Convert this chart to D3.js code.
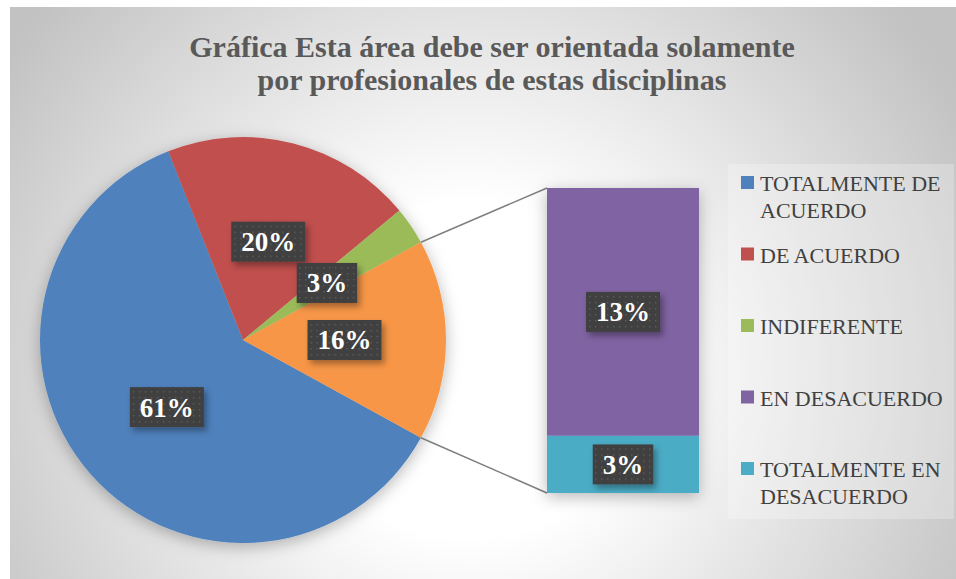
<!DOCTYPE html>
<html>
<head>
<meta charset="utf-8">
<script src="https://cdn.jsdelivr.net/npm/d3@7"></script>
<style>
  body { margin: 0; background: #fff; }
  svg { display: block; }
</style>
</head>
<body>
<svg width="956" height="579"></svg>
<script>
const TITLE_LINES = ["Gráfica Esta área debe ser orientada solamente", "por profesionales de estas disciplinas"];
const CATEGORIES = ["TOTALMENTE DE ACUERDO", "DE ACUERDO", "INDIFERENTE", "EN DESACUERDO", "TOTALMENTE EN DESACUERDO"];
const VALUES = [61, 20, 3, 13, 3];
const COLORS = ["#4f81bd", "#c0504d", "#9bbb59", "#8064a2", "#4bacc6"];
const OTHER_COLOR = "#f79646";
const SPLIT_AT = 3; // last 2 values go to the bar
const LEGEND_LINES = [["TOTALMENTE DE", "ACUERDO"], ["DE ACUERDO"], ["INDIFERENTE"], ["EN DESACUERDO"], ["TOTALMENTE EN", "DESACUERDO"]];

const W = 956, H = 579;
const PIE_C = { x: 243, y: 340 };
const R = 203;
const BAR = { x: 547, y: 188, w: 152, h: 305 };
const SERIF = "'Liberation Serif', 'DejaVu Serif', serif";

const svg = d3.select("svg");
const defs = svg.append("defs");

// background gradient
const bg = defs.append("radialGradient")
  .attr("id", "bg")
  .attr("gradientUnits", "userSpaceOnUse")
  .attr("cx", 470).attr("cy", 370).attr("r", 560);
bg.append("stop").attr("offset", 0).attr("stop-color", "#ffffff");
bg.append("stop").attr("offset", 0.3).attr("stop-color", "#ffffff");
bg.append("stop").attr("offset", 1).attr("stop-color", "#c2c2c2");

// dotted texture for data labels
const pat = defs.append("pattern")
  .attr("id", "dots")
  .attr("patternUnits", "userSpaceOnUse")
  .attr("width", 6).attr("height", 6);
pat.append("rect").attr("width", 6).attr("height", 6).attr("fill", "#404040");
pat.append("rect").attr("x", 2).attr("y", 2).attr("width", 1.4).attr("height", 1.4).attr("fill", "#5e5e5e");

const shadow = defs.append("filter").attr("id", "shadow")
  .attr("x", "-30%").attr("y", "-30%").attr("width", "160%").attr("height", "160%");
shadow.append("feDropShadow")
  .attr("dx", 3).attr("dy", 4).attr("stdDeviation", 3)
  .attr("flood-color", "#000").attr("flood-opacity", 0.35);

const pieShadow = defs.append("filter").attr("id", "pieShadow")
  .attr("x", "-20%").attr("y", "-20%").attr("width", "140%").attr("height", "140%");
pieShadow.append("feDropShadow")
  .attr("dx", 0).attr("dy", 4).attr("stdDeviation", 8)
  .attr("flood-color", "#000").attr("flood-opacity", 0.28);

svg.append("rect")
  .attr("x", 10).attr("y", 7)
  .attr("width", W - 10).attr("height", H - 7)
  .attr("fill", "url(#bg)");

// title
svg.append("g").selectAll("text")
  .data(TITLE_LINES)
  .join("text")
  .attr("x", 492)
  .attr("y", (d, i) => 57 + i * 33)
  .attr("text-anchor", "middle")
  .attr("font-family", SERIF)
  .attr("font-weight", "bold")
  .attr("font-size", 30)
  .attr("fill", "#595959")
  .text(d => d);

// pie: main slices + "other"
const mainVals = VALUES.slice(0, SPLIT_AT);
const otherVals = VALUES.slice(SPLIT_AT);
const otherSum = d3.sum(otherVals);
const total = d3.sum(VALUES);
const pieData = mainVals.map((v, i) => ({ v, color: COLORS[i] }))
  .concat([{ v: otherSum, color: OTHER_COLOR }]);

const otherAngle = otherSum / total * 2 * Math.PI;
const startA = Math.PI / 2 + otherAngle / 2;
const pie = d3.pie().value(d => d.v).sort(null)
  .startAngle(startA).endAngle(startA + 2 * Math.PI);
const arcs = pie(pieData);
const arc = d3.arc().innerRadius(0).outerRadius(R);
const labelArc = d3.arc().innerRadius(R * 0.5).outerRadius(R * 0.5);

const pieG = svg.append("g").attr("transform", `translate(${PIE_C.x},${PIE_C.y})`);
pieG.append("g").attr("filter", "url(#pieShadow)")
  .selectAll("path")
  .data(arcs)
  .join("path")
  .attr("d", arc)
  .attr("fill", d => d.data.color);

// connector lines from "other" slice edges to bar corners
const otherArc = arcs[arcs.length - 1];
const edgePt = a => [PIE_C.x + R * Math.sin(a), PIE_C.y - R * Math.cos(a)];
const p1 = edgePt(otherArc.startAngle);
const p2 = edgePt(otherArc.endAngle);
svg.append("g")
  .selectAll("line")
  .data([[p1, [BAR.x, BAR.y]], [p2, [BAR.x, BAR.y + BAR.h]]])
  .join("line")
  .attr("x1", d => d[0][0]).attr("y1", d => d[0][1])
  .attr("x2", d => d[1][0]).attr("y2", d => d[1][1])
  .attr("stroke", "#7f7f7f")
  .attr("stroke-width", 1.5);

// bar of "other": first value on top
const y = d3.scaleLinear().domain([0, otherSum]).range([BAR.y + BAR.h, BAR.y]);
let used = 0;
const barData = otherVals.map((v, i) => {
  const d = { v, y1: otherSum - used, y0: otherSum - used - v, color: COLORS[SPLIT_AT + i] };
  used += v;
  return d;
});

const barG = svg.append("g").attr("filter", "url(#pieShadow)");
barG.selectAll("rect")
  .data(barData)
  .join("rect")
  .attr("x", BAR.x)
  .attr("y", d => y(d.y1))
  .attr("width", BAR.w)
  .attr("height", d => y(d.y0) - y(d.y1))
  .attr("fill", d => d.color);

// data labels
const fmt = v => Math.round(v / total * 100) + "%";
const labels = arcs.map((a, i) => {
  const c = labelArc.centroid(a);
  return { x: PIE_C.x + c[0], y: PIE_C.y + c[1], t: fmt(a.data.v) };
}).concat(barData.map(d => ({ x: BAR.x + BAR.w / 2, y: (y(d.y0) + y(d.y1)) / 2, t: fmt(d.v) })));

const lg = svg.append("g").selectAll("g")
  .data(labels)
  .join("g")
  .attr("transform", d => `translate(${d.x},${d.y})`);
lg.append("text")
  .attr("text-anchor", "middle")
  .attr("dy", "0.35em")
  .attr("font-family", SERIF)
  .attr("font-weight", "bold")
  .attr("font-size", 27)
  .attr("fill", "#fff")
  .text(d => d.t)
  .each(function(d) { d.w = this.getComputedTextLength(); });
lg.insert("rect", "text")
  .attr("x", d => -d.w / 2 - 10)
  .attr("y", -20)
  .attr("width", d => d.w + 20)
  .attr("height", 40)
  .attr("fill", "url(#dots)")
  .attr("filter", "url(#shadow)");

// legend
const LEG = { x: 741, y0: 176, step: 71.5 };
svg.append("rect")
  .attr("x", 728).attr("y", 164)
  .attr("width", 226).attr("height", 355)
  .attr("fill", "#ffffff").attr("opacity", 0.25);
const leg = svg.append("g").selectAll("g")
  .data(CATEGORIES)
  .join("g")
  .attr("transform", (d, i) => `translate(${LEG.x},${LEG.y0 + i * LEG.step})`);
leg.append("rect")
  .attr("width", 13).attr("height", 13)
  .attr("fill", (d, i) => COLORS[i]);
leg.append("text")
  .attr("font-family", SERIF)
  .attr("font-size", 22)
  .attr("fill", "#404040")
  .selectAll("tspan")
  .data((d, i) => LEGEND_LINES[i])
  .join("tspan")
  .attr("x", 19)
  .attr("y", (d, i) => 15 + i * 27)
  .text(d => d);
</script>
</body>
</html>
